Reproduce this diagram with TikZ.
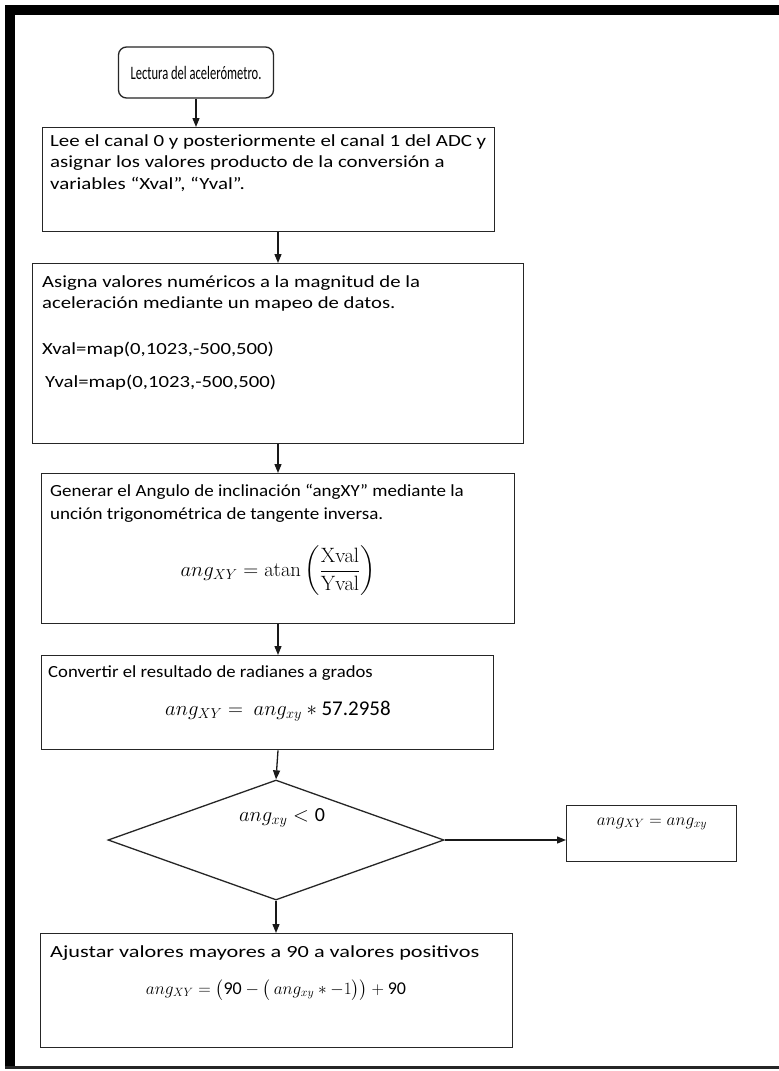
\documentclass[tikz,border=0pt]{standalone}
\usepackage[no-math]{fontspec}
\setmainfont{Carlito}
\usepackage{amsmath}
\usepackage{graphicx}
\usetikzlibrary{arrows.meta,shapes.geometric}
\newcommand{\sx}[2]{\scalebox{#1}[1]{#2}}
\begin{document}
\begin{tikzpicture}[x=1pt,y=-1pt,
  box/.style={draw=black!85, line width=1.3pt, anchor=north west, inner sep=0pt},
  txt/.style={anchor=west, inner sep=0pt, font=\fontsize{17}{21}\selectfont},
  mth/.style={anchor=center, inner sep=0pt, font=\fontsize{18}{22}\selectfont},
  arr/.style={-{Triangle[length=9pt,width=7pt]}, line width=1.3pt, draw=black!90}]
\useasboundingbox (0,0) rectangle (779,1071);
\fill[white] (0,0) rectangle (779,1071);
% frame
\fill[black] (5,5) rectangle (779,15);
\fill[black] (5,5) rectangle (15,1068);
\fill[black!85] (5,1066) rectangle (779,1069);
% column of arrows
\coordinate (col) at (278,0);
% start
\node[draw=black!85, line width=1.3pt, rounded corners=8pt, minimum width=155, minimum height=51,
      inner sep=0pt, font=\fontsize{19}{23}\selectfont] (start) at (196,72.5) {\sx{0.66}{Lectura del acelerómetro.}};
% box 2
\node[box, minimum width=452, minimum height=104] (b2) at (42,127) {};
\node[txt] (t2a) at (50,142) {\sx{1.23}{Lee el canal 0 y posteriormente el canal 1 del ADC y}};
\node[txt] (t2b) at (50,163) {\sx{1.23}{asignar los valores producto de la conversión a}};
\node[txt] (t2c) at (50,184) {\sx{1.23}{variables “Xval”, “Yval”.}};
% box 3
\node[box, minimum width=491, minimum height=180] (b3) at (32,263) {};
\node[txt] (t3a) at (42,283) {\sx{1.22}{Asigna valores numéricos a la magnitud de la}};
\node[txt] (t3b) at (42,304) {\sx{1.22}{aceleración mediante un mapeo de datos.}};
\node[txt] (t3c) at (42,350) {\sx{1.22}{Xval=map(0,1023,-500,500)}};
\node[txt] (t3d) at (45,383) {\sx{1.22}{Yval=map(0,1023,-500,500)}};
% box 4
\node[box, minimum width=473, minimum height=150] (b4) at (41,473) {};
\node[txt] (t4a) at (50,492) {\sx{1.12}{Generar el Angulo de inclinación “angXY” mediante la}};
\node[txt] (t4b) at (50,515) {\sx{1.12}{unción trigonométrica de tangente inversa.}};
\node[mth, font=\fontsize{20}{24}\selectfont] (t4c) at (278,571) {$ang_{XY}=\mathrm{atan}\left(\dfrac{\mathrm{Xval}}{\mathrm{Yval}}\right)$};
% box 5
\node[box, minimum width=452, minimum height=94] (b5) at (41,655) {};
\node[txt] (t5a) at (48,673) {\sx{1.1}{Convertir el resultado de radianes a grados}};
\node[mth, font=\fontsize{21}{24}\selectfont] (t5b) at (278,711) {$ang_{XY}=\ ang_{xy}*\text{57.2958}$};
% decision
\node[draw=black!85, line width=1.3pt, diamond, minimum width=336, minimum height=120, inner sep=0pt] (dec) at (276,840) {};
\node[mth, font=\fontsize{20}{24}\selectfont] (tdec) at (282,818) {$ang_{xy}<\text{0}$};
% side box
\node[box, minimum width=170, minimum height=56] (side) at (566,805) {};
\node[mth] (tside) at (652,824) {$ang_{XY}=ang_{xy}$};
% box 6
\node[box, minimum width=472, minimum height=114] (b6) at (40,933) {};
\node[txt] (t6a) at (50,953) {\sx{1.31}{Ajustar valores mayores a 90 a valores positivos}};
\node[mth] (t6b) at (276,990) {$ang_{XY}=\bigl(\text{90}-\bigl(\,ang_{xy}*-1\bigr)\bigr)+\text{90}$};
% connectors
\draw[arr] (start.south) -- (start.south |- b2.north);
\draw[arr] (b2.south -| col) -- (b3.north -| col);
\draw[arr] (b3.south -| col) -- (b4.north -| col);
\draw[arr] (b4.south -| col) -- (b5.north -| col);
\draw[arr] (b5.south -| col) -- (dec.north);
\draw[arr] (dec.east) -- (dec.east -| side.west);
\draw[arr] (dec.south) -- (dec.south |- b6.north);
\end{tikzpicture}
\end{document}
